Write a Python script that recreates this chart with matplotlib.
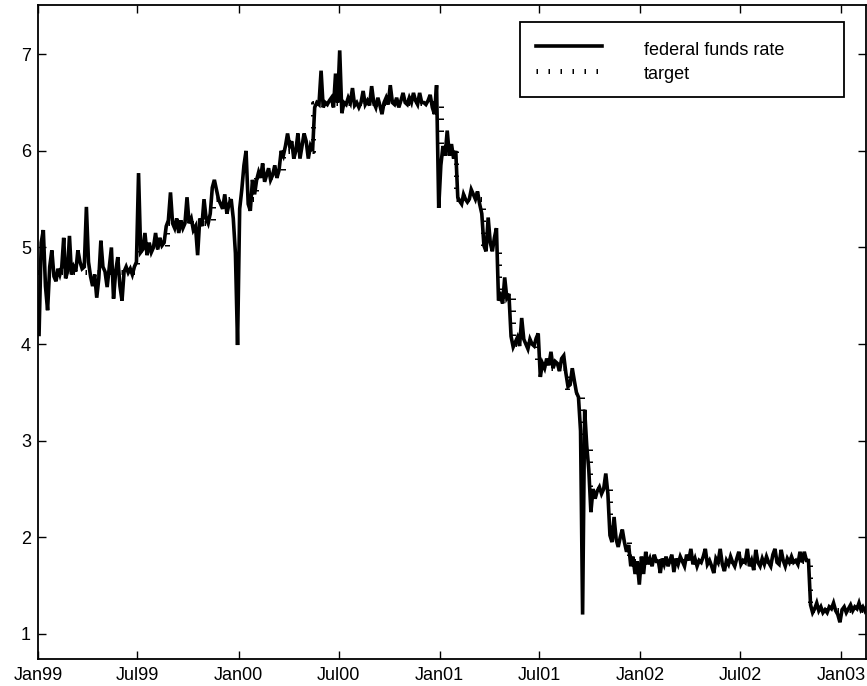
import calendar
import datetime as dt

import matplotlib
matplotlib.use("Agg")
import matplotlib.pyplot as plt
import matplotlib.dates as mdates
from matplotlib.patches import Rectangle

plt.rcParams['font.family'] = ['Liberation Sans', 'DejaVu Sans']

# Effective federal funds rate, eight readings per calendar month (percent)
rate_1999 = [
    4.10, 5.05, 5.18, 4.60, 4.35, 4.80, 4.97, 4.70,   # Jan
    4.65, 4.78, 4.72, 4.80, 5.10, 4.68, 4.75, 5.12,   # Feb
    4.72, 4.80, 4.75, 4.97, 4.85, 4.78, 4.80, 5.42,   # Mar
    4.85, 4.70, 4.60, 4.72, 4.48, 4.68, 5.07, 4.80,   # Apr
    4.75, 4.59, 4.80, 5.00, 4.47, 4.75, 4.90, 4.60,   # May
    4.45, 4.75, 4.80, 4.74, 4.78, 4.72, 4.80, 4.85,   # Jun
    5.77, 4.95, 4.98, 5.15, 4.92, 5.05, 4.95, 5.00,   # Jul
    5.15, 4.98, 5.10, 5.02, 5.05, 5.22, 5.28, 5.57,   # Aug
    5.25, 5.20, 5.30, 5.15, 5.28, 5.20, 5.25, 5.52,   # Sep
    5.25, 5.30, 5.18, 5.22, 4.92, 5.30, 5.22, 5.50,   # Oct
    5.30, 5.25, 5.35, 5.62, 5.70, 5.60, 5.50, 5.45,   # Nov
    5.40, 5.55, 5.35, 5.45, 5.50, 5.30, 4.94, 3.99,   # Dec
]
rate_2000 = [
    5.40, 5.60, 5.85, 6.00, 5.45, 5.38, 5.70, 5.55,   # Jan
    5.70, 5.78, 5.72, 5.87, 5.68, 5.75, 5.82, 5.70,   # Feb
    5.75, 5.85, 5.72, 5.80, 6.00, 5.95, 6.05, 6.18,   # Mar
    6.05, 6.10, 5.92, 6.00, 6.18, 5.92, 6.05, 6.18,   # Apr
    6.10, 5.92, 6.05, 6.00, 6.45, 6.50, 6.48, 6.83,   # May
    6.45, 6.50, 6.48, 6.52, 6.55, 6.45, 6.80, 6.50,   # Jun
    7.04, 6.39, 6.50, 6.48, 6.55, 6.50, 6.65, 6.47,   # Jul
    6.50, 6.45, 6.50, 6.62, 6.48, 6.52, 6.47, 6.67,   # Aug
    6.50, 6.45, 6.55, 6.47, 6.38, 6.50, 6.55, 6.48,   # Sep
    6.68, 6.50, 6.48, 6.55, 6.45, 6.52, 6.60, 6.50,   # Oct
    6.48, 6.55, 6.50, 6.60, 6.52, 6.48, 6.60, 6.50,   # Nov
    6.50, 6.48, 6.52, 6.58, 6.45, 6.38, 6.68, 5.41,   # Dec
]
rate_2001 = [
    5.85, 6.05, 5.95, 6.21, 5.95, 6.07, 5.92, 6.00,   # Jan
    5.52, 5.48, 5.45, 5.55, 5.50, 5.47, 5.50, 5.60,   # Feb
    5.55, 5.50, 5.58, 5.45, 5.35, 5.02, 4.96, 5.31,   # Mar
    5.05, 4.96, 5.10, 5.20, 4.45, 4.50, 4.42, 4.69,   # Apr
    4.48, 4.52, 4.08, 3.97, 4.02, 4.07, 3.98, 4.27,   # May
    4.05, 4.00, 3.95, 4.05, 4.00, 3.98, 4.06, 4.11,   # Jun
    3.66, 3.80, 3.75, 3.85, 3.78, 3.92, 3.75, 3.82,   # Jul
    3.80, 3.72, 3.85, 3.88, 3.70, 3.56, 3.58, 3.75,   # Aug
    3.62, 3.50, 3.45, 3.10, 1.20, 3.32, 2.95, 2.70,   # Sep
    2.26, 2.50, 2.40, 2.48, 2.52, 2.45, 2.50, 2.66,   # Oct
    2.45, 2.02, 1.95, 2.21, 1.98, 1.90, 2.00, 2.08,   # Nov
    1.95, 1.85, 1.92, 1.70, 1.80, 1.62, 1.75, 1.51,   # Dec
]
rate_2002 = [
    1.80, 1.62, 1.85, 1.72, 1.78, 1.70, 1.82, 1.75,   # Jan
    1.75, 1.63, 1.78, 1.72, 1.80, 1.70, 1.76, 1.82,   # Feb
    1.64, 1.78, 1.72, 1.80, 1.75, 1.70, 1.82, 1.76,   # Mar
    1.88, 1.72, 1.78, 1.70, 1.76, 1.74, 1.80, 1.88,   # Apr
    1.72, 1.76, 1.70, 1.63, 1.78, 1.74, 1.88, 1.72,   # May
    1.65, 1.76, 1.72, 1.80, 1.74, 1.70, 1.78, 1.85,   # Jun
    1.72, 1.76, 1.74, 1.88, 1.70, 1.76, 1.66, 1.87,   # Jul
    1.74, 1.70, 1.78, 1.72, 1.80, 1.74, 1.70, 1.82,   # Aug
    1.88, 1.74, 1.72, 1.87, 1.76, 1.70, 1.78, 1.74,   # Sep
    1.80, 1.74, 1.76, 1.72, 1.85, 1.74, 1.85, 1.76,   # Oct
    1.76, 1.30, 1.22, 1.26, 1.32, 1.24, 1.28, 1.22,   # Nov
    1.25, 1.22, 1.28, 1.26, 1.32, 1.24, 1.20, 1.12,   # Dec
]
rate_2003 = [
    1.25, 1.28, 1.22, 1.26, 1.30, 1.24, 1.28, 1.26,   # Jan
    1.32, 1.25, 1.28, 1.24, 1.28, 1.26, 1.30, 1.25,   # Feb
]

# FOMC target rate changes (effective date, new target)
target_dates = ["1998-11-17", "1999-06-30", "1999-08-24", "1999-11-16",
                "2000-02-02", "2000-03-21", "2000-05-16", "2001-01-03",
                "2001-01-31", "2001-03-20", "2001-04-18", "2001-05-15",
                "2001-06-27", "2001-08-21", "2001-09-17", "2001-10-02",
                "2001-11-06", "2001-12-11", "2002-11-06", "2003-03-01"]
target_values = [4.75, 5.00, 5.25, 5.50, 5.75, 6.00, 6.50, 6.00, 5.50, 5.00,
                 4.50, 4.00, 3.75, 3.50, 3.00, 2.50, 2.00, 1.75, 1.25, 1.25]

legend_labels = ["federal funds rate", "target"]


def month_slots(year, values):
    """Spread eight readings evenly through each month of the year."""
    out = []
    for k in range(len(values) // 8):
        month = k + 1
        dim = calendar.monthrange(year, month)[1]
        start = dt.datetime(year, month, 1)
        for i in range(8):
            out.append(start + dt.timedelta(days=(i + 0.5) * dim / 8))
    return out


rate_dates, rate_vals = [], []
for yr, vals in [(1999, rate_1999), (2000, rate_2000), (2001, rate_2001),
                 (2002, rate_2002), (2003, rate_2003)]:
    rate_dates += month_slots(yr, vals)
    rate_vals += vals

tgt_dates = [dt.datetime.strptime(d, "%Y-%m-%d") for d in target_dates]

fig = plt.figure(figsize=(8.67, 6.86), dpi=100)
ax = fig.add_axes([38 / 867, 27 / 686, 828 / 867, 654 / 686])

rate_lw = 2.6
tgt_lw = 3.6
tgt_style = (0, (0.3, 2.1))

ax.plot(rate_dates, rate_vals, color='black', lw=rate_lw, zorder=3,
        solid_joinstyle='miter')
ax.plot(tgt_dates, target_values, color='black', lw=tgt_lw, ls=tgt_style,
        drawstyle='steps-post', dash_capstyle='butt', zorder=4)

ax.set_xlim(dt.datetime(1999, 1, 1), dt.datetime(2003, 2, 15, 12))
ax.set_ylim(0.74, 7.51)

ax.xaxis.set_major_locator(mdates.MonthLocator(bymonth=[1, 7]))
ax.xaxis.set_major_formatter(mdates.DateFormatter('%b%y'))
ax.set_yticks([1, 2, 3, 4, 5, 6, 7])
ax.tick_params(direction='in', top=True, right=True, length=6, width=1.0,
               labelsize=13, colors='black')
ax.tick_params(axis='x', pad=6)
ax.tick_params(axis='y', pad=5)
for s in ax.spines.values():
    s.set_linewidth(1.3)
    s.set_color('black')

# Legend box, drawn in axes fractions
T = ax.transAxes
ax.add_patch(Rectangle((0.582, 0.8593), 0.3914, 0.1147, transform=T,
                       facecolor='white', edgecolor='black', lw=1.3, zorder=5))
ax.plot([0.6014, 0.6812], [0.9376, 0.9376], transform=T, color='black',
        lw=rate_lw, zorder=6)
ax.plot([0.6014, 0.6812], [0.8991, 0.8991], transform=T, color='black',
        lw=tgt_lw, ls=tgt_style, dash_capstyle='butt', zorder=6)
ax.text(0.7319, 0.9235, legend_labels[0], transform=T, fontsize=13,
        va='baseline', ha='left', zorder=7)
ax.text(0.7319, 0.8869, legend_labels[1], transform=T, fontsize=13,
        va='baseline', ha='left', zorder=7)

fig.savefig("out.png", dpi=100)
